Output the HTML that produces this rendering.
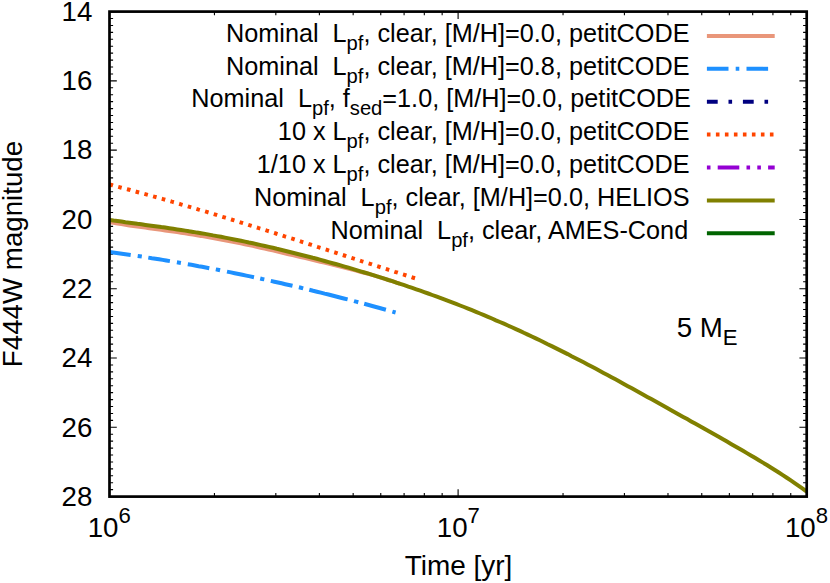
<!DOCTYPE html>
<html><head><meta charset="utf-8"><title>F444W magnitude vs Time</title>
<style>html,body{margin:0;padding:0;background:#fff;overflow:hidden}svg{display:block}.tl{font-family:"Liberation Sans",sans-serif;fill:#000;white-space:pre}</style></head><body>
<svg width="830" height="583" viewBox="0 0 830 583">
<rect width="830" height="583" fill="#fff"/>
<path d="M109.50 11.60h7.3M806.70 11.60h-7.3M109.50 18.53h3.6M806.70 18.53h-3.6M109.50 25.46h3.6M806.70 25.46h-3.6M109.50 32.39h3.6M806.70 32.39h-3.6M109.50 39.31h3.6M806.70 39.31h-3.6M109.50 46.24h3.6M806.70 46.24h-3.6M109.50 53.17h3.6M806.70 53.17h-3.6M109.50 60.10h3.6M806.70 60.10h-3.6M109.50 67.03h3.6M806.70 67.03h-3.6M109.50 73.96h3.6M806.70 73.96h-3.6M109.50 80.89h7.3M806.70 80.89h-7.3M109.50 87.81h3.6M806.70 87.81h-3.6M109.50 94.74h3.6M806.70 94.74h-3.6M109.50 101.67h3.6M806.70 101.67h-3.6M109.50 108.60h3.6M806.70 108.60h-3.6M109.50 115.53h3.6M806.70 115.53h-3.6M109.50 122.46h3.6M806.70 122.46h-3.6M109.50 129.39h3.6M806.70 129.39h-3.6M109.50 136.31h3.6M806.70 136.31h-3.6M109.50 143.24h3.6M806.70 143.24h-3.6M109.50 150.17h7.3M806.70 150.17h-7.3M109.50 157.10h3.6M806.70 157.10h-3.6M109.50 164.03h3.6M806.70 164.03h-3.6M109.50 170.96h3.6M806.70 170.96h-3.6M109.50 177.89h3.6M806.70 177.89h-3.6M109.50 184.81h3.6M806.70 184.81h-3.6M109.50 191.74h3.6M806.70 191.74h-3.6M109.50 198.67h3.6M806.70 198.67h-3.6M109.50 205.60h3.6M806.70 205.60h-3.6M109.50 212.53h3.6M806.70 212.53h-3.6M109.50 219.46h7.3M806.70 219.46h-7.3M109.50 226.39h3.6M806.70 226.39h-3.6M109.50 233.31h3.6M806.70 233.31h-3.6M109.50 240.24h3.6M806.70 240.24h-3.6M109.50 247.17h3.6M806.70 247.17h-3.6M109.50 254.10h3.6M806.70 254.10h-3.6M109.50 261.03h3.6M806.70 261.03h-3.6M109.50 267.96h3.6M806.70 267.96h-3.6M109.50 274.89h3.6M806.70 274.89h-3.6M109.50 281.81h3.6M806.70 281.81h-3.6M109.50 288.74h7.3M806.70 288.74h-7.3M109.50 295.67h3.6M806.70 295.67h-3.6M109.50 302.60h3.6M806.70 302.60h-3.6M109.50 309.53h3.6M806.70 309.53h-3.6M109.50 316.46h3.6M806.70 316.46h-3.6M109.50 323.39h3.6M806.70 323.39h-3.6M109.50 330.31h3.6M806.70 330.31h-3.6M109.50 337.24h3.6M806.70 337.24h-3.6M109.50 344.17h3.6M806.70 344.17h-3.6M109.50 351.10h3.6M806.70 351.10h-3.6M109.50 358.03h7.3M806.70 358.03h-7.3M109.50 364.96h3.6M806.70 364.96h-3.6M109.50 371.89h3.6M806.70 371.89h-3.6M109.50 378.81h3.6M806.70 378.81h-3.6M109.50 385.74h3.6M806.70 385.74h-3.6M109.50 392.67h3.6M806.70 392.67h-3.6M109.50 399.60h3.6M806.70 399.60h-3.6M109.50 406.53h3.6M806.70 406.53h-3.6M109.50 413.46h3.6M806.70 413.46h-3.6M109.50 420.39h3.6M806.70 420.39h-3.6M109.50 427.31h7.3M806.70 427.31h-7.3M109.50 434.24h3.6M806.70 434.24h-3.6M109.50 441.17h3.6M806.70 441.17h-3.6M109.50 448.10h3.6M806.70 448.10h-3.6M109.50 455.03h3.6M806.70 455.03h-3.6M109.50 461.96h3.6M806.70 461.96h-3.6M109.50 468.89h3.6M806.70 468.89h-3.6M109.50 475.81h3.6M806.70 475.81h-3.6M109.50 482.74h3.6M806.70 482.74h-3.6M109.50 489.67h3.6M806.70 489.67h-3.6M109.50 496.60h7.3M806.70 496.60h-7.3M109.50 496.60v-7.3M109.50 11.60v7.3M214.44 496.60v-3.6M214.44 11.60v3.6M275.82 496.60v-3.6M275.82 11.60v3.6M319.38 496.60v-3.6M319.38 11.60v3.6M353.16 496.60v-3.6M353.16 11.60v3.6M380.76 496.60v-3.6M380.76 11.60v3.6M404.10 496.60v-3.6M404.10 11.60v3.6M424.32 496.60v-3.6M424.32 11.60v3.6M442.15 496.60v-3.6M442.15 11.60v3.6M458.10 496.60v-7.3M458.10 11.60v7.3M563.04 496.60v-3.6M563.04 11.60v3.6M624.42 496.60v-3.6M624.42 11.60v3.6M667.98 496.60v-3.6M667.98 11.60v3.6M701.76 496.60v-3.6M701.76 11.60v3.6M729.36 496.60v-3.6M729.36 11.60v3.6M752.70 496.60v-3.6M752.70 11.60v3.6M772.92 496.60v-3.6M772.92 11.60v3.6M790.75 496.60v-3.6M790.75 11.60v3.6" stroke="#000" stroke-width="1.1" fill="none"/>
<path d="M109.5 222.2 L113.5 222.8 L117.5 223.5 L121.4 224.1 L125.4 224.8 L129.4 225.4 L133.4 226.0 L137.4 226.6 L141.3 227.1 L145.3 227.6 L149.3 228.2 L153.3 228.7 L157.3 229.3 L161.2 229.8 L165.2 230.4 L169.2 230.9 L173.2 231.5 L177.2 232.1 L181.1 232.7 L185.1 233.3 L189.1 234.0 L193.1 234.6 L197.0 235.3 L201.0 235.9 L205.0 236.6 L209.0 237.3 L213.0 238.0 L216.9 238.7 L220.9 239.5 L224.9 240.2 L228.9 241.0 L232.9 241.8 L236.8 242.6 L240.8 243.4 L244.8 244.2 L248.8 245.1 L252.8 245.9 L256.7 246.8 L260.7 247.7 L264.7 248.6 L268.7 249.5 L272.7 250.4 L276.6 251.3 L280.6 252.3 L284.6 253.2 L288.6 254.2 L292.6 255.1 L296.5 256.0 L300.5 257.0 L304.5 257.9 L308.5 258.8 L312.5 259.8 L316.4 260.7 L320.4 261.7 L324.4 262.6 L328.4 263.6 L332.3 264.6 L336.3 265.5 L340.3 266.5 L344.3 267.5 L348.3 268.6 L352.2 269.6 L356.2 270.6 L360.2 271.7 L364.2 272.8 L368.2 273.8 L372.1 274.9 L376.1 276.1 L380.1 277.3 L384.1 278.6 L388.1 279.9 L392.0 281.1 L396.0 282.4 L400.0 283.8" stroke="#E9967A" stroke-width="4.0" fill="none"/>
<path d="M109.5 252.0 L113.0 252.5 L116.6 253.0 L120.1 253.5 L123.6 254.0 L127.2 254.5 L130.7 255.0M137.7 256.0 L139.8 256.3 L141.8 256.6M148.3 257.6 L151.9 258.2 L155.5 258.7 L159.1 259.3 L162.7 259.9 L166.3 260.5 L169.9 261.1M176.9 262.3 L180.9 263.0M187.8 264.2 L191.4 264.8 L195.0 265.5 L198.6 266.2 L202.1 266.8 L205.7 267.5 L209.3 268.2M215.8 269.4 L217.9 269.8 L220.1 270.3M227.0 271.6 L230.9 272.4 L234.7 273.2 L238.6 274.0 L242.4 274.8 L246.3 275.6 L250.1 276.4 L254.0 277.2M260.2 278.5 L262.2 279.0 L264.3 279.4M270.8 280.9 L274.4 281.7 L278.0 282.5 L281.6 283.3 L285.3 284.2 L288.9 285.0 L292.5 285.8M298.9 287.3 L301.0 287.8 L303.2 288.4M309.3 289.8 L313.1 290.8 L317.0 291.7 L320.8 292.6 L324.6 293.6 L328.5 294.5 L332.3 295.5 L336.1 296.5 L339.9 297.5 L343.8 298.5 L347.6 299.4M354.0 301.1 L356.1 301.7 L358.3 302.3M364.2 303.8 L367.8 304.8 L371.4 305.8 L375.0 306.8 L378.7 307.8 L382.3 308.7 L385.9 309.7M392.4 311.6 L395.6 312.5" stroke="#1E90FF" stroke-width="4.0" fill="none"/>
<path d="M109.5 184.5 L112.5 185.3 L115.4 186.1 L118.4 186.9 L121.4 187.7 L124.4 188.5 L127.3 189.2 L130.3 190.0 L133.3 190.9 L136.2 191.7 L139.2 192.5 L142.2 193.3 L145.2 194.1 L148.1 194.9 L151.1 195.8 L154.1 196.6 L157.0 197.4 L160.0 198.3 L163.0 199.1 L166.0 200.0 L168.9 200.8 L171.9 201.7 L174.9 202.5 L177.9 203.4 L180.8 204.3 L183.8 205.2 L186.8 206.0 L189.7 206.9 L192.7 207.8 L195.7 208.7 L198.7 209.6 L201.6 210.4 L204.6 211.3 L207.6 212.2 L210.5 213.1 L213.5 214.0 L216.5 214.9 L219.5 215.9 L222.4 216.8 L225.4 217.7 L228.4 218.6 L231.3 219.5 L234.3 220.4 L237.3 221.3 L240.3 222.3 L243.2 223.2 L246.2 224.1 L249.2 225.1 L252.1 226.0 L255.1 226.9 L258.1 227.9 L261.1 228.8 L264.0 229.7 L267.0 230.7 L270.0 231.6 L273.0 232.6 L275.9 233.5 L278.9 234.5 L281.9 235.4 L284.8 236.4 L287.8 237.3 L290.8 238.3 L293.8 239.2 L296.7 240.2 L299.7 241.1 L302.7 242.1 L305.6 243.0 L308.6 244.0 L311.6 244.9 L314.6 245.9 L317.5 246.9 L320.5 247.8 L323.5 248.8 L326.4 249.7 L329.4 250.7 L332.4 251.7 L335.4 252.6 L338.3 253.6 L341.3 254.5 L344.3 255.5 L347.2 256.5 L350.2 257.4 L353.2 258.4 L356.2 259.3 L359.1 260.3 L362.1 261.3 L365.1 262.2 L368.1 263.2 L371.0 264.1 L374.0 265.1 L377.0 266.1 L379.9 267.0 L382.9 268.0 L385.9 268.9 L388.9 269.9 L391.8 270.8 L394.8 271.8 L397.8 272.7 L400.7 273.7 L403.7 274.6 L406.7 275.6 L409.7 276.5 L412.6 277.5 L415.6 278.4" stroke="#FF4500" stroke-width="4.0" fill="none" stroke-dasharray="3.6 5.43"/>
<path d="M109.5 219.9 L113.5 220.5 L117.5 221.0 L121.5 221.6 L125.4 222.2 L129.4 222.7 L133.4 223.2 L137.4 223.8 L141.4 224.3 L145.4 224.9 L149.3 225.4 L153.3 225.9 L157.3 226.5 L161.3 227.1 L165.3 227.6 L169.3 228.2 L173.2 228.8 L177.2 229.4 L181.2 230.0 L185.2 230.6 L189.2 231.3 L193.2 231.9 L197.1 232.6 L201.1 233.2 L205.1 233.9 L209.1 234.6 L213.1 235.4 L217.1 236.1 L221.1 236.8 L225.0 237.6 L229.0 238.4 L233.0 239.2 L237.0 240.0 L241.0 240.8 L245.0 241.6 L248.9 242.5 L252.9 243.3 L256.9 244.2 L260.9 245.1 L264.9 246.0 L268.9 246.9 L272.8 247.8 L276.8 248.8 L280.8 249.7 L284.8 250.7 L288.8 251.7 L292.8 252.7 L296.7 253.7 L300.7 254.7 L304.7 255.7 L308.7 256.7 L312.7 257.8 L316.7 258.8 L320.7 259.9 L324.6 261.0 L328.6 262.1 L332.6 263.2 L336.6 264.3 L340.6 265.4 L344.6 266.6 L348.5 267.7 L352.5 268.9 L356.5 270.1 L360.5 271.3 L364.5 272.5 L368.5 273.7 L372.4 274.9 L376.4 276.2 L380.4 277.4 L384.4 278.7 L388.4 280.0 L392.4 281.2 L396.3 282.6 L400.3 283.9 L404.3 285.2 L408.3 286.6 L412.3 287.9 L416.3 289.3 L420.3 290.7 L424.2 292.1 L428.2 293.5 L432.2 295.0 L436.2 296.4 L440.2 297.9 L444.2 299.4 L448.1 300.9 L452.1 302.4 L456.1 303.9 L460.1 305.5 L464.1 307.0 L468.1 308.6 L472.0 310.2 L476.0 311.9 L480.0 313.5 L484.0 315.2 L488.0 316.8 L492.0 318.5 L495.9 320.3 L499.9 322.0 L503.9 323.7 L507.9 325.5 L511.9 327.3 L515.9 329.1 L519.9 330.9 L523.8 332.8 L527.8 334.6 L531.8 336.5 L535.8 338.4 L539.8 340.3 L543.8 342.2 L547.7 344.2 L551.7 346.1 L555.7 348.1 L559.7 350.1 L563.7 352.1 L567.7 354.1 L571.6 356.2 L575.6 358.2 L579.6 360.3 L583.6 362.3 L587.6 364.4 L591.6 366.5 L595.5 368.6 L599.5 370.8 L603.5 372.9 L607.5 375.0 L611.5 377.2 L615.5 379.3 L619.5 381.5 L623.4 383.7 L627.4 385.9 L631.4 388.1 L635.4 390.3 L639.4 392.5 L643.4 394.7 L647.3 396.9 L651.3 399.1 L655.3 401.3 L659.3 403.5 L663.3 405.7 L667.3 408.0 L671.2 410.2 L675.2 412.4 L679.2 414.7 L683.2 416.9 L687.2 419.1 L691.2 421.4 L695.1 423.6 L699.1 425.8 L703.1 428.1 L707.1 430.3 L711.1 432.6 L715.1 434.8 L719.1 437.1 L723.0 439.3 L727.0 441.6 L731.0 443.9 L735.0 446.2 L739.0 448.5 L743.0 450.8 L746.9 453.1 L750.9 455.4 L754.9 457.8 L758.9 460.2 L762.9 462.6 L766.9 465.0 L770.8 467.5 L774.8 470.0 L778.8 472.5 L782.8 475.1 L786.8 477.7 L790.8 480.4 L794.7 483.1 L798.7 485.9 L802.7 488.7 L806.7 491.7" stroke="#808000" stroke-width="4.0" fill="none"/>
<rect x="109.50" y="11.60" width="697.20" height="485.00" fill="none" stroke="#000" stroke-width="2.7"/>
<g class="gl">
<g transform="translate(61.60 20.90)"><text x="0" y="0" font-size="27.7" textLength="30.8" lengthAdjust="spacingAndGlyphs" class="tl">14</text></g>
<g transform="translate(61.60 90.19)"><text x="0" y="0" font-size="27.7" textLength="30.8" lengthAdjust="spacingAndGlyphs" class="tl">16</text></g>
<g transform="translate(61.60 159.47)"><text x="0" y="0" font-size="27.7" textLength="30.8" lengthAdjust="spacingAndGlyphs" class="tl">18</text></g>
<g transform="translate(61.60 228.76)"><text x="0" y="0" font-size="27.7" textLength="30.8" lengthAdjust="spacingAndGlyphs" class="tl">20</text></g>
<g transform="translate(61.60 298.04)"><text x="0" y="0" font-size="27.7" textLength="30.8" lengthAdjust="spacingAndGlyphs" class="tl">22</text></g>
<g transform="translate(61.60 367.33)"><text x="0" y="0" font-size="27.7" textLength="30.8" lengthAdjust="spacingAndGlyphs" class="tl">24</text></g>
<g transform="translate(61.60 436.61)"><text x="0" y="0" font-size="27.7" textLength="30.8" lengthAdjust="spacingAndGlyphs" class="tl">26</text></g>
<g transform="translate(61.60 505.90)"><text x="0" y="0" font-size="27.7" textLength="30.8" lengthAdjust="spacingAndGlyphs" class="tl">28</text></g>
<g transform="translate(87.64 536.60)"><text x="0" y="0" font-size="27.7" class="tl">10</text><text x="30.80" y="-13.85" font-size="22.16" class="tl">6</text></g>
<g transform="translate(436.74 536.60)"><text x="0" y="0" font-size="27.7" class="tl">10</text><text x="30.80" y="-13.85" font-size="22.16" class="tl">7</text></g>
<g transform="translate(784.94 536.60)"><text x="0" y="0" font-size="27.7" class="tl">10</text><text x="30.80" y="-13.85" font-size="22.16" class="tl">8</text></g>
<g transform="translate(404.64 575.20)"><text x="0" y="0" font-size="27.7" textLength="107.7" lengthAdjust="spacingAndGlyphs" class="tl">Time [yr]</text></g>
<g transform="translate(21.70 254.00) rotate(-90) translate(-113.15 0)"><text x="0" y="0" font-size="27.7" textLength="226.3" lengthAdjust="spacingAndGlyphs" class="tl">F444W magnitude</text></g>
<g transform="translate(676.70 336.70)"><text x="0" y="0" font-size="27.7" class="tl">5 M</text><text x="46.18" y="8.30" font-size="22.16" class="tl">E</text></g>
<g transform="translate(226.00 41.60)"><text x="0" y="0" font-size="25.24" class="tl">Nominal</text><text x="106.59" y="0" font-size="25.24" class="tl">L</text><text x="120.62" y="8" font-size="20.19" class="tl">pf</text><text x="137.46" y="0" font-size="25.24" class="tl">, clear, [M/H]=0.0, petitCODE</text></g>
<g transform="translate(226.00 74.50)"><text x="0" y="0" font-size="25.24" class="tl">Nominal</text><text x="106.59" y="0" font-size="25.24" class="tl">L</text><text x="120.62" y="8" font-size="20.19" class="tl">pf</text><text x="137.46" y="0" font-size="25.24" class="tl">, clear, [M/H]=0.8, petitCODE</text></g>
<g transform="translate(191.30 107.40)"><text x="0" y="0" font-size="25.24" class="tl">Nominal</text><text x="106.59" y="0" font-size="25.24" class="tl">L</text><text x="120.62" y="8" font-size="20.19" class="tl">pf</text><text x="137.46" y="0" font-size="25.24" class="tl">, f</text><text x="158.51" y="8" font-size="20.19" class="tl">sed</text><text x="191.06" y="0" font-size="25.24" class="tl">=1.0, [M/H]=0.0, petitCODE</text></g>
<g transform="translate(277.87 140.30)"><text x="0" y="0" font-size="25.24" class="tl">10 x</text><text x="54.72" y="0" font-size="25.24" class="tl">L</text><text x="68.75" y="8" font-size="20.19" class="tl">pf</text><text x="85.59" y="0" font-size="25.24" class="tl">, clear, [M/H]=0.0, petitCODE</text></g>
<g transform="translate(256.82 173.20)"><text x="0" y="0" font-size="25.24" class="tl">1/10 x</text><text x="75.77" y="0" font-size="25.24" class="tl">L</text><text x="89.80" y="8" font-size="20.19" class="tl">pf</text><text x="106.64" y="0" font-size="25.24" class="tl">, clear, [M/H]=0.0, petitCODE</text></g>
<g transform="translate(254.04 206.10)"><text x="0" y="0" font-size="25.24" class="tl">Nominal</text><text x="106.59" y="0" font-size="25.24" class="tl">L</text><text x="120.62" y="8" font-size="20.19" class="tl">pf</text><text x="137.46" y="0" font-size="25.24" class="tl">, clear, [M/H]=0.0, HELIOS</text></g>
<g transform="translate(330.52 239.00)"><text x="0" y="0" font-size="25.24" class="tl">Nominal</text><text x="106.59" y="0" font-size="25.24" class="tl">L</text><text x="120.62" y="8" font-size="20.19" class="tl">pf</text><text x="137.46" y="0" font-size="25.24" class="tl">, clear, AMES-Cond</text></g>
</g>
<path d="M706.9 35.90H774.7" stroke="#E9967A" stroke-width="4" fill="none"/>
<path d="M706.9 68.80H774.7" stroke="#1E90FF" stroke-width="4" fill="none" stroke-dasharray="21.6 7.2 3.6 7.2"/>
<path d="M706.9 101.70H774.7" stroke="#000080" stroke-width="4" fill="none" stroke-dasharray="10.8 10.8 3.6 10.8"/>
<path d="M706.9 134.60H774.7" stroke="#FF4500" stroke-width="4" fill="none" stroke-dasharray="3.6 5.4"/>
<path d="M706.9 167.50H774.7" stroke="#9400D3" stroke-width="4" fill="none" stroke-dasharray="21.6 7.2 3.6 7.2 3.6 7.2" stroke-dashoffset="39.6"/>
<path d="M706.9 200.40H774.7" stroke="#808000" stroke-width="4" fill="none"/>
<path d="M706.9 233.30H774.7" stroke="#006400" stroke-width="4" fill="none"/>
</svg></body></html>
